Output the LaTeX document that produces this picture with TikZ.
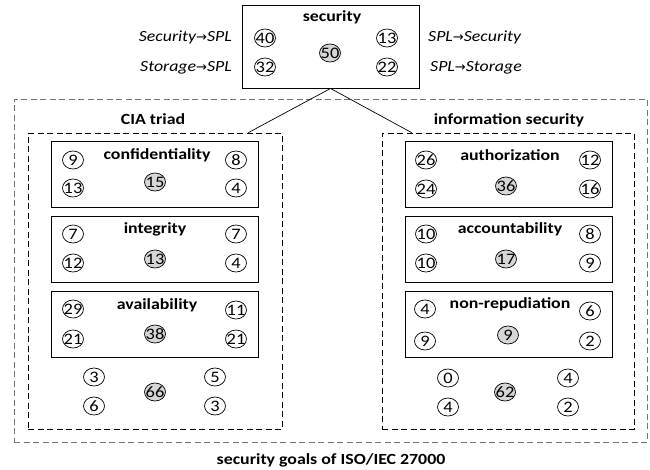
\documentclass[tikz,border=0pt]{standalone}
\usepackage{fontspec}
\setmainfont{Carlito}[FakeStretch=1.15]
\newfontfamily\arrowfont{DejaVu Sans}
\newcommand{\flowto}{{\arrowfont\fontsize{13}{13}\selectfont\char"2192}}
\usetikzlibrary{shapes.geometric}
\begin{document}
\begin{tikzpicture}[x=1pt,y=-1pt,
  numtext/.style={inner sep=0pt,font=\fontsize{16}{16}\selectfont},
  num/.style={ellipse,draw,line width=0.7pt,minimum width=21pt,minimum height=18pt,
    inner sep=0pt,label={[numtext]center:#1}},
  tot/.style={num=#1,fill=black!16},
  goalbox/.style={draw,line width=0.9pt,minimum width=207pt,minimum height=66pt,inner sep=0pt},
  groupbox/.style={draw,dash pattern=on 6pt off 3.5pt,line width=0.8pt,inner sep=0pt},
  outerbox/.style={groupbox,draw=black!55},
  title/.style={font=\bfseries\fontsize{15.5}{15.5}\selectfont,inner sep=0pt,anchor=base},
  flow/.style={font=\itshape\fontsize{15.5}{15.5}\selectfont,inner sep=0pt},
  link/.style={line width=0.7pt}]
\useasboundingbox (0,0) rectangle (650,469);

% outer frame: security goals of ISO/IEC 27000
\node[outerbox,minimum width=633pt,minimum height=343pt] (iso) at (330.5,270.5) {};
\node[title] (isot) at (331,464) {security goals of ISO/IEC 27000};

% the two groups
\node[groupbox,minimum width=254pt,minimum height=296pt] (cia) at (155,281) {};
\node[title] (ciat) at (153,124) {CIA triad};
\node[groupbox,minimum width=252pt,minimum height=296pt] (info) at (508,281) {};
\node[title] (infot) at (509,124) {information security};

% top-level security goal
\node[draw,line width=0.9pt,minimum width=177pt,minimum height=83pt,inner sep=0pt] (sec) at (330.5,46.5) {};
\node[title] (sect) at (332,21) {security};
\node[num=40] (s40) at (265,38) {};
\node[num=13] (s13) at (387,38) {};
\node[num=32] (s32) at (265,67) {};
\node[num=22] (s22) at (387,67) {};
\node[tot=50] (s50) at (330,53) {};
\node[flow,anchor=base east] (secspl) at (232,41.5) {Security\flowto SPL};
\node[flow,anchor=base east] (stospl) at (232,71) {Storage\flowto SPL};
\node[flow,anchor=base west] (splsec) at (428,41.5) {SPL\flowto Security};
\node[flow,anchor=base west] (splsto) at (430,71) {SPL\flowto Storage};

\draw[link] (sec.south) -- ([xshift=-34pt]cia.north east);
\draw[link] (sec.south) -- ([xshift=30pt]info.north west);

% CIA triad
\node[goalbox] (conf) at (155,174.5) {};
\node[title] (conft) at (157,159) {confidentiality};
\node[num=9] (c1) at (73,160) {};
\node[num=8] (c2) at (236,160) {};
\node[num=13] (c3) at (73,188) {};
\node[num=4] (c4) at (236,188) {};
\node[tot=15] (c5) at (155,182) {};

\node[goalbox] (integ) at (155,249.5) {};
\node[title] (integt) at (155,233) {integrity};
\node[num=7] (i1) at (73,234) {};
\node[num=7] (i2) at (236,234) {};
\node[num=12] (i3) at (73,263) {};
\node[num=4] (i4) at (236,263) {};
\node[tot=13] (i5) at (155,259) {};

\node[goalbox] (avail) at (155,324) {};
\node[title] (availt) at (157,309) {availability};
\node[num=29] (a1) at (73,309) {};
\node[num=11] (a2) at (236,310) {};
\node[num=21] (a3) at (73,339) {};
\node[num=21] (a4) at (236,339) {};
\node[tot=38] (a5) at (155,334) {};

\node[num=3] (ct1) at (94,377) {};
\node[num=5] (ct2) at (215,377) {};
\node[num=6] (ct3) at (94,406) {};
\node[num=3] (ct4) at (215,406) {};
\node[tot=66] (ct5) at (155,392) {};

% information security
\node[goalbox] (auth) at (509,174.5) {};
\node[title] (autht) at (510,160) {authorization};
\node[num=26] (u1) at (426,160) {};
\node[num=12] (u2) at (590,160) {};
\node[num=24] (u3) at (426,189) {};
\node[num=16] (u4) at (590,189) {};
\node[tot=36] (u5) at (506,186) {};

\node[goalbox] (acc) at (509,249.5) {};
\node[title] (acct) at (510,233) {accountability};
\node[num=10] (k1) at (426,234) {};
\node[num=8] (k2) at (590,234) {};
\node[num=10] (k3) at (426,263) {};
\node[num=9] (k4) at (590,263) {};
\node[tot=17] (k5) at (506,259) {};

\node[goalbox] (nrep) at (509,324) {};
\node[title] (nrept) at (510,308) {non-repudiation};
\node[num=4] (n1) at (425,309) {};
\node[num=6] (n2) at (590,311) {};
\node[num=9] (n3) at (425,341) {};
\node[num=2] (n4) at (590,341) {};
\node[tot=9] (n5) at (508,335) {};

\node[num=0] (it1) at (448,378) {};
\node[num=4] (it2) at (568,378) {};
\node[num=4] (it3) at (448,407) {};
\node[num=2] (it4) at (568,407) {};
\node[tot=62] (it5) at (505,392) {};
\end{tikzpicture}
\end{document}
